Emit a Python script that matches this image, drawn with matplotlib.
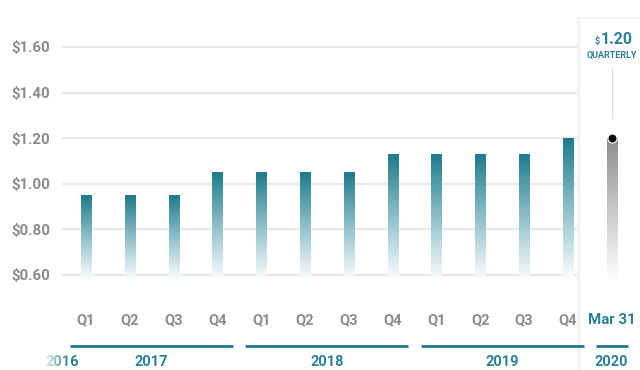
import matplotlib.pyplot as plt
import numpy as np
from matplotlib.colors import LinearSegmentedColormap
from matplotlib.patches import Rectangle

plt.rcParams['font.family'] = ['Roboto', 'DejaVu Sans']

quarters = ['Q1', 'Q2', 'Q3', 'Q4'] * 3
years = ['2017', '2018', '2019']
dividends = [0.95, 0.95, 0.95, 1.05, 1.05, 1.05, 1.05, 1.13, 1.13, 1.13, 1.13, 1.20]
yticks = [0.60, 0.80, 1.00, 1.20, 1.40, 1.60]
latest_value = 1.20
latest_date = 'Mar 31'
latest_year = '2020'
prev_year = '2016'

teal = '#1f7b8c'
teal_text = '#2a8193'
gray_text = '#8c8c8c'

fig = plt.figure(figsize=(6.4, 3.7), dpi=100)
ax = fig.add_axes([62 / 640, 83.6 / 370, 578 / 640, 250.8 / 370])
ax.set_xlim(-0.548, 12.648)
ax.set_ylim(0.55, 1.65)
for s in ax.spines.values():
    s.set_visible(False)

# grid lines stop where the side card begins
ax.hlines(yticks, -0.548, 11.28, color='#e8e8e8', lw=1.6, zorder=1)
ax.set_xticks([])
ax.set_yticks(yticks)
ax.set_yticklabels(['$%.2f' % v for v in yticks], fontsize=10.8, fontweight='bold', color=gray_text)
ax.tick_params(axis='y', length=0, pad=8.5)

bar_cmap = LinearSegmentedColormap.from_list('bar', ['#ffffff', '#8fc0ca', teal])
grad = np.linspace(0, 1, 256).reshape(-1, 1)
w = 0.23
bottom = 0.575
for i, v in enumerate(dividends):
    ax.imshow(grad, cmap=bar_cmap, extent=[i - w / 2, i + w / 2, bottom, v],
              origin='lower', aspect='auto', zorder=2, interpolation='bicubic')

# side card for the latest payment
ax.add_patch(Rectangle((11.20, 0.0), 1.7, 1.73, facecolor='#f0f0f0', edgecolor='none',
                       clip_on=False, zorder=2.5))
ax.add_patch(Rectangle((11.25, 0.0), 1.7, 1.727, facecolor='#f7f7f7', edgecolor='none',
                       clip_on=False, zorder=2.6))
ax.add_patch(Rectangle((11.29, 0.0), 1.7, 1.724, facecolor='white', edgecolor='none',
                       clip_on=False, zorder=2.7))

gray_cmap = LinearSegmentedColormap.from_list('g', ['#ffffff', '#c8c8c8', '#8c8c8c'])
ax.imshow(grad, cmap=gray_cmap, extent=[12 - w / 2, 12 + w / 2, bottom, latest_value],
          origin='lower', aspect='auto', zorder=3, interpolation='bicubic')
ax.plot([12, 12], [1.29, 1.51], color='#dcdcdc', lw=0.9, zorder=3)
ax.plot(12, latest_value, 'o', color='black', ms=6.5, mec='white', mew=0.8, zorder=4)
ax.text(11.72, 1.611, '$', fontsize=6.5, fontweight='bold', color=teal_text,
        ha='right', va='baseline', zorder=4)
ax.text(11.74, 1.611, '%.2f' % latest_value, fontsize=11.5, fontweight='bold', color=teal_text,
        ha='left', va='baseline', zorder=4)
ax.text(12, 1.565, 'QUARTERLY', fontsize=6.5, fontweight='bold', color=teal_text,
        ha='center', va='center', zorder=4)

xt = ax.get_xaxis_transform()
q_y = -0.134
line_y = -0.237
year_y = -0.301
for i, q in enumerate(quarters):
    ax.text(i, q_y, q, transform=xt, ha='center', va='center', fontsize=10.5,
            fontweight='bold', color=gray_text, zorder=4)
ax.text(12, q_y, latest_date, transform=xt, ha='center', va='center', fontsize=10.8,
        fontweight='bold', color=teal_text, zorder=4)

for k, y in enumerate(years):
    c = 4 * k + 1.5
    ax.plot([c - 1.86, c + 1.86], [line_y, line_y], transform=xt, color=teal,
            lw=2, clip_on=False, zorder=4, solid_capstyle='butt')
    ax.text(c, year_y, y, transform=xt, ha='center', va='center', fontsize=10.5,
            fontweight='bold', color=teal_text, zorder=4)
ax.plot([11.64, 12.37], [line_y, line_y], transform=xt, color=teal,
        lw=2, clip_on=False, zorder=4, solid_capstyle='butt')
ax.text(12, year_y, latest_year, transform=xt, ha='center', va='center', fontsize=10.5,
        fontweight='bold', color=teal_text, zorder=4)
ax.text(-0.55, year_y, prev_year, transform=xt, ha='center', va='center', fontsize=10.5,
        fontweight='bold', color=teal_text, zorder=4, clip_on=False)

# fade the previous year label out to the left
fade = np.ones((1, 64, 4))
fade[0, :, 3] = np.linspace(1, 0, 64)
fade_ax = fig.add_axes([40 / 640, 0, 30 / 640, 20 / 370])
fade_ax.imshow(fade, aspect='auto', extent=[0, 1, 0, 1])
fade_ax.axis('off')

fig.savefig('out.png', dpi=100)
